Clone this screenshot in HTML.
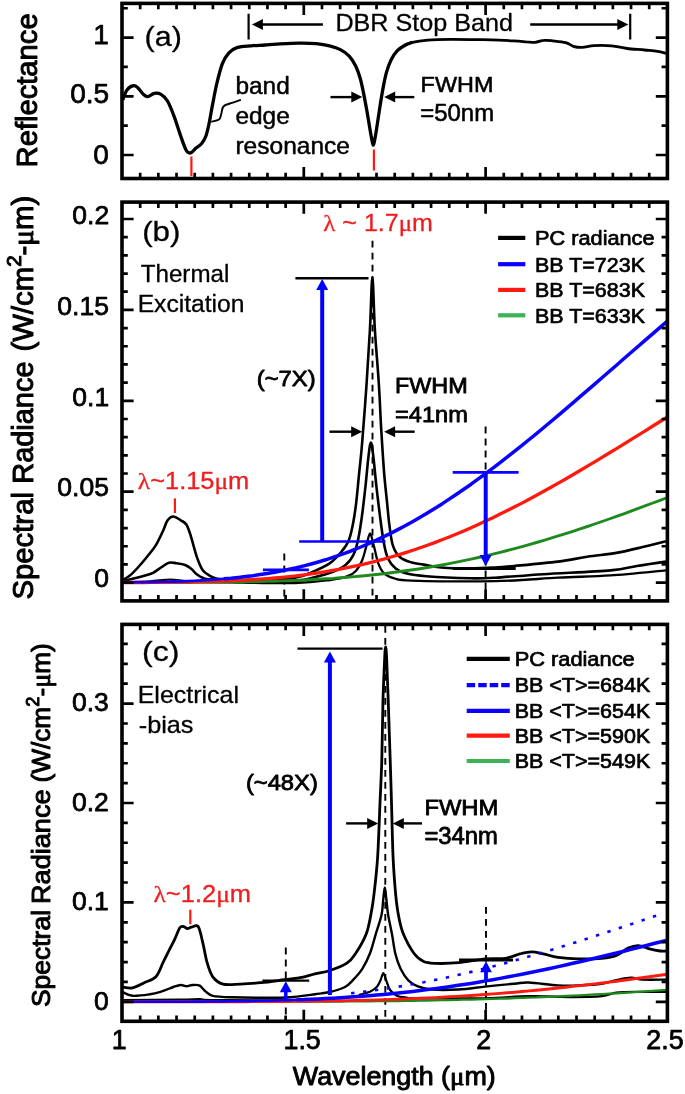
<!DOCTYPE html>
<html lang="en"><head><meta charset="utf-8"><title>Figure</title>
<style>html,body{margin:0;padding:0;background:#fff}svg{display:block;will-change:transform}text{font-family:"Liberation Sans",sans-serif;stroke-linejoin:round}</style></head><body>
<svg width="685" height="1094" viewBox="0 0 685 1094">
<rect width="685" height="1094" fill="#fff"/>
<g fill="none" stroke-linecap="butt" stroke-linejoin="round">
<path d="M122.7,99.9 C123.4,98.2 125.2,92.4 127.0,90.0 C128.8,87.6 131.8,86.0 133.6,85.7 C135.4,85.4 136.3,86.5 138.0,87.9 C139.7,89.4 141.9,93.0 143.5,94.4 C145.1,95.9 146.0,96.8 147.8,96.6 C149.6,96.4 152.2,93.8 154.4,93.4 C156.6,93.0 158.8,93.1 161.0,94.4 C163.2,95.7 165.3,97.3 167.5,101.0 C169.7,104.7 171.9,110.5 174.1,116.3 C176.3,122.1 178.7,130.3 180.7,136.0 C182.7,141.7 184.6,147.5 186.2,150.3 C187.8,153.1 188.9,153.3 190.5,152.9 C192.1,152.5 194.2,149.6 196.0,148.1 C197.8,146.6 199.8,145.7 201.5,143.7 C203.2,141.7 204.6,139.5 205.9,136.0 C207.2,132.5 208.1,128.0 209.2,122.9 C210.3,117.8 211.1,112.0 212.4,105.4 C213.7,98.8 215.2,90.4 216.8,83.5 C218.5,76.6 220.3,68.9 222.3,63.8 C224.3,58.7 226.4,55.5 228.9,52.8 C231.4,50.1 233.9,48.6 237.6,47.4 C241.2,46.2 246.2,46.2 250.8,45.8 C255.4,45.4 260.6,45.3 265.0,45.0 C269.4,44.7 271.3,44.4 276.9,44.1 C282.5,43.8 292.2,43.2 298.8,43.1 C305.4,43.0 311.2,43.2 316.3,43.7 C321.4,44.2 325.5,44.9 329.5,45.9 C333.5,46.9 337.1,47.9 340.4,49.6 C343.7,51.3 346.6,53.4 349.2,56.1 C351.8,58.8 353.9,62.4 355.7,66.0 C357.5,69.7 358.8,73.6 360.1,78.0 C361.4,82.4 362.3,87.0 363.4,92.3 C364.5,97.6 365.6,103.6 366.7,109.8 C367.8,116.0 369.1,124.1 370.0,129.5 C370.9,134.9 371.8,139.4 372.3,142.0 C372.9,144.6 373.0,145.2 373.3,145.2 C373.6,145.2 373.8,144.6 374.3,142.0 C374.8,139.4 375.6,135.2 376.5,129.5 C377.4,123.8 378.7,114.5 379.8,107.6 C380.9,100.7 382.0,93.7 383.1,87.9 C384.2,82.1 385.1,77.2 386.4,72.6 C387.7,68.0 389.0,64.2 390.8,60.5 C392.6,56.9 394.9,53.2 397.3,50.7 C399.7,48.2 402.5,46.6 405.0,45.2 C407.5,43.8 411.2,42.8 412.5,42.3" stroke="#000" stroke-width="3.3"/>
<path d="M405.0,45.2 C406.2,44.7 408.7,43.1 412.5,42.3 C416.3,41.4 421.6,40.6 427.8,40.1 C434.0,39.6 440.6,39.4 449.7,39.3 C458.8,39.2 472.0,39.5 482.6,39.7 C493.2,40.0 505.9,40.4 513.2,40.8 C520.5,41.2 522.8,41.6 526.4,41.9 C530.0,42.1 532.2,42.5 535.1,42.3 C538.0,42.0 540.9,40.6 543.8,40.4 C546.7,40.1 548.9,40.4 552.5,40.8 C556.1,41.2 562.2,41.7 565.7,42.6 C569.2,43.5 570.6,45.5 573.3,46.3 C576.0,47.1 578.6,47.5 582.1,47.4 C585.6,47.3 589.2,45.9 594.1,45.6 C599.0,45.3 606.1,45.3 611.6,45.8 C617.1,46.3 621.5,47.8 627.0,48.5 C632.5,49.2 639.4,49.5 644.5,50.0 C649.6,50.5 654.0,50.8 657.6,51.3 C661.2,51.8 664.9,53.0 666.4,53.3" stroke="#000" stroke-width="2.8"/>
<path d="M240.9,99.9 C239.2,100.5 233.9,102.1 231.0,103.2 C228.1,104.3 225.0,104.7 223.4,106.5 C221.8,108.3 221.9,112.0 221.2,114.2 C220.5,116.4 220.7,118.3 219.0,119.6 C217.3,120.9 212.6,121.4 211.3,121.8" stroke="#000" stroke-width="1.9"/>
<path d="M191.4,156.5V176 M373.9,149.5V170.6" stroke="#ff1a10" stroke-width="2.2"/>
<path d="M248.6,13.8V39.5 M630.2,13.8V39.5" stroke="#000" stroke-width="2.2"/>
</g>
<path d="M322.9,24.5H258.5" stroke="#000" stroke-width="2.4"/>
<path d="M251.9,24.5L262.9,19.0L262.9,30.0Z" fill="#000"/>
<path d="M530.2,24.5H621.7" stroke="#000" stroke-width="2.4"/>
<path d="M628.3,24.5L617.3,19.0L617.3,30.0Z" fill="#000"/>
<path d="M330.5,97.1H355.7" stroke="#000" stroke-width="2.4"/>
<path d="M362.3,97.1L351.3,91.6L351.3,102.6Z" fill="#000"/>
<path d="M414.3,97.1H390.8" stroke="#000" stroke-width="2.4"/>
<path d="M384.2,97.1L395.2,91.6L395.2,102.6Z" fill="#000"/>
<path d="M140.18,3.40v5.80 M140.18,178.50v-5.80 M158.36,3.40v5.80 M158.36,178.50v-5.80 M176.54,3.40v5.80 M176.54,178.50v-5.80 M194.72,3.40v5.80 M194.72,178.50v-5.80 M212.90,3.40v5.80 M212.90,178.50v-5.80 M231.08,3.40v5.80 M231.08,178.50v-5.80 M249.26,3.40v5.80 M249.26,178.50v-5.80 M267.44,3.40v5.80 M267.44,178.50v-5.80 M285.62,3.40v5.80 M285.62,178.50v-5.80 M303.80,3.40v11.60 M303.80,178.50v-11.60 M321.98,3.40v5.80 M321.98,178.50v-5.80 M340.16,3.40v5.80 M340.16,178.50v-5.80 M358.34,3.40v5.80 M358.34,178.50v-5.80 M376.52,3.40v5.80 M376.52,178.50v-5.80 M394.70,3.40v5.80 M394.70,178.50v-5.80 M412.88,3.40v5.80 M412.88,178.50v-5.80 M431.06,3.40v5.80 M431.06,178.50v-5.80 M449.24,3.40v5.80 M449.24,178.50v-5.80 M467.42,3.40v5.80 M467.42,178.50v-5.80 M485.60,3.40v11.60 M485.60,178.50v-11.60 M503.78,3.40v5.80 M503.78,178.50v-5.80 M521.96,3.40v5.80 M521.96,178.50v-5.80 M540.14,3.40v5.80 M540.14,178.50v-5.80 M558.32,3.40v5.80 M558.32,178.50v-5.80 M576.50,3.40v5.80 M576.50,178.50v-5.80 M594.68,3.40v5.80 M594.68,178.50v-5.80 M612.86,3.40v5.80 M612.86,178.50v-5.80 M631.04,3.40v5.80 M631.04,178.50v-5.80 M649.22,3.40v5.80 M649.22,178.50v-5.80 M122.00,155.00h11.60 M667.40,155.00h-11.60 M122.00,96.30h11.60 M667.40,96.30h-11.60 M122.00,37.60h11.60 M667.40,37.60h-11.60 M122.00,125.65h5.80 M667.40,125.65h-5.80 M122.00,66.95h5.80 M667.40,66.95h-5.80 M122.00,8.25h5.80 M667.40,8.25h-5.80" stroke="#000" stroke-width="2.7" fill="none"/>
<rect x="122.00" y="3.40" width="545.40" height="175.10" fill="none" stroke="#000" stroke-width="3.6"/>
<g fill="none" stroke-linecap="butt" stroke-linejoin="round">
<path d="M284.3,553.6V599 M372.5,240.7V599 M485.6,426.6V599" stroke="#000" stroke-width="1.9" stroke-dasharray="6.8,5.2"/>
<path d="M122.3,580.2 C123.5,579.5 126.9,578.0 129.6,575.8 C132.3,573.6 135.5,570.2 138.4,567.0 C141.3,563.8 144.2,560.4 147.1,556.8 C150.0,553.1 153.2,549.5 155.9,545.1 C158.6,540.7 161.2,534.6 163.2,530.5 C165.1,526.4 165.9,522.6 167.6,520.3 C169.3,518.0 171.2,516.5 173.4,516.5 C175.6,516.5 178.5,518.9 180.7,520.3 C182.9,521.7 184.8,522.0 186.5,524.7 C188.2,527.4 189.2,531.0 190.9,536.4 C192.6,541.8 194.9,551.2 196.8,556.8 C198.8,562.4 200.4,566.8 202.6,570.0 C204.8,573.2 207.5,574.3 209.9,575.8 C212.3,577.2 213.5,578.0 217.2,578.7 C220.8,579.4 224.7,580.1 231.8,580.2 C238.9,580.3 249.5,579.9 260.0,579.5 C270.5,579.1 286.2,579.0 295.0,577.7 C303.8,576.4 306.7,574.3 312.5,571.9 C318.3,569.5 325.1,566.5 330.0,563.1 C334.9,559.7 338.5,555.3 341.7,551.4 C344.9,547.5 347.1,544.6 349.0,539.7 C350.9,534.8 352.1,528.5 353.3,522.2 C354.5,515.9 355.3,510.1 356.3,501.8 C357.3,493.5 358.2,482.3 359.2,472.6 C360.2,462.9 360.9,458.0 362.1,443.4 C363.3,428.8 365.2,403.9 366.5,385.0 C367.8,366.1 368.9,348.0 369.9,330.0 C370.9,312.0 371.6,277.0 372.4,277.0 C373.2,277.0 373.8,312.0 374.9,330.0 C376.0,348.0 377.9,368.5 378.9,385.0 C380.0,401.5 380.3,414.2 381.2,428.8 C382.1,443.4 383.1,460.4 384.1,472.6 C385.1,484.8 386.1,493.1 387.0,501.8 C387.9,510.6 388.4,517.8 389.4,525.1 C390.4,532.4 391.1,540.2 392.9,545.6 C394.7,551.0 397.0,554.5 400.1,557.3 C403.2,560.1 407.9,561.3 411.8,562.5 C415.7,563.7 418.6,563.8 423.5,564.6 C428.4,565.4 433.2,566.9 441.0,567.5 C448.8,568.1 461.2,568.4 470.2,568.4 C479.2,568.4 487.7,567.9 495.0,567.5 C502.3,567.1 503.7,567.0 514.2,566.0 C524.7,565.0 545.8,563.1 558.0,561.6 C570.2,560.1 577.5,558.2 587.2,556.7 C596.9,555.2 607.1,554.5 616.4,552.9 C625.6,551.3 634.4,549.0 642.7,547.0 C651.0,545.0 662.1,542.2 666.0,541.2" stroke="#000" stroke-width="2.6"/>
<path d="M122.3,581.6 C124.0,581.1 128.8,579.7 132.5,578.7 C136.2,577.7 140.8,576.8 144.2,575.8 C147.6,574.8 150.1,574.4 153.0,572.9 C155.9,571.4 159.0,568.7 161.7,567.0 C164.4,565.3 166.6,563.3 169.0,562.7 C171.4,562.1 173.6,562.8 176.3,563.2 C179.0,563.6 182.7,564.1 185.1,565.0 C187.5,565.9 188.9,567.0 190.9,568.5 C192.9,570.0 194.9,572.8 196.8,574.3 C198.8,575.8 200.2,576.9 202.6,577.8 C205.0,578.7 203.5,579.1 211.4,579.6 C219.3,580.1 236.1,580.8 250.0,581.0 C263.9,581.2 284.6,581.1 295.0,580.6 C305.4,580.1 306.2,579.2 312.5,577.7 C318.8,576.2 327.4,574.1 333.0,571.9 C338.6,569.7 342.7,567.5 346.1,564.6 C349.6,561.7 351.7,558.4 353.7,554.3 C355.7,550.1 356.7,546.0 358.1,539.7 C359.5,533.4 360.7,525.1 361.9,516.4 C363.1,507.6 364.3,496.9 365.4,487.2 C366.5,477.5 367.4,465.4 368.3,458.0 C369.2,450.6 370.0,442.5 370.9,442.5 C371.8,442.5 372.6,450.6 373.5,458.0 C374.4,465.4 375.4,477.5 376.5,487.2 C377.6,496.9 378.8,507.1 380.0,516.4 C381.2,525.6 382.5,535.7 383.8,542.7 C385.1,549.8 386.1,554.4 388.1,558.7 C390.1,563.0 392.7,566.0 395.7,568.4 C398.7,570.8 400.9,572.0 406.0,573.3 C411.1,574.6 415.7,575.4 426.4,576.2 C437.1,577.0 458.8,578.0 470.2,578.3 C481.6,578.5 482.8,578.4 495.0,577.7 C507.2,577.0 524.1,575.4 543.4,574.2 C562.6,573.0 594.9,571.8 610.5,570.4 C626.1,569.0 627.5,567.5 636.8,566.0 C646.0,564.5 661.1,562.3 666.0,561.6" stroke="#000" stroke-width="2.6"/>
<path d="M122.3,582.3 C126.9,582.1 142.0,581.8 150.0,581.3 C158.0,580.8 163.8,579.6 170.5,579.6 C177.2,579.6 180.1,580.8 190.0,581.3 C199.9,581.8 212.5,582.0 230.0,582.3 C247.5,582.6 278.3,583.4 295.0,583.0 C311.7,582.6 321.2,581.1 330.0,580.0 C338.8,578.9 343.2,577.8 347.6,576.2 C352.0,574.6 353.9,573.1 356.3,570.4 C358.7,567.7 360.5,564.3 362.2,560.2 C363.9,556.1 365.2,550.1 366.5,545.6 C367.8,541.1 368.8,533.3 370.0,533.3 C371.2,533.3 372.4,540.6 373.8,545.6 C375.2,550.6 376.5,558.5 378.2,563.1 C379.9,567.7 381.4,570.8 384.1,573.3 C386.8,575.8 389.7,577.1 394.3,578.3 C398.9,579.5 395.0,580.1 411.8,580.6 C428.6,581.1 470.6,581.7 495.0,581.2 C519.4,580.7 538.8,578.7 558.0,577.7 C577.2,576.7 592.5,576.6 610.5,575.4 C628.5,574.2 656.8,571.2 666.0,570.4" stroke="#000" stroke-width="2.3"/>
<path d="M122.0,582.6 L129.3,582.6 L136.5,582.6 L143.8,582.6 L151.1,582.6 L158.4,582.6 L165.6,582.5 L172.9,582.5 L180.2,582.5 L187.4,582.5 L194.7,582.4 L202.0,582.4 L209.3,582.3 L216.5,582.3 L223.8,582.2 L231.1,582.1 L238.4,582.0 L245.6,581.9 L252.9,581.7 L260.2,581.6 L267.4,581.4 L274.7,581.2 L282.0,580.9 L289.3,580.7 L296.5,580.4 L303.8,580.0 L311.1,579.7 L318.3,579.3 L325.6,578.8 L332.9,578.4 L340.2,577.8 L347.4,577.3 L354.7,576.6 L362.0,576.0 L369.2,575.3 L376.5,574.5 L383.8,573.7 L391.1,572.8 L398.3,571.8 L405.6,570.8 L412.9,569.8 L420.2,568.7 L427.4,567.5 L434.7,566.3 L442.0,565.0 L449.2,563.6 L456.5,562.2 L463.8,560.7 L471.1,559.1 L478.3,557.5 L485.6,555.8 L492.9,554.1 L500.1,552.3 L507.4,550.5 L514.7,548.6 L522.0,546.6 L529.2,544.6 L536.5,542.5 L543.8,540.3 L551.0,538.2 L558.3,535.9 L565.6,533.6 L572.9,531.3 L580.1,528.9 L587.4,526.5 L594.7,524.0 L602.0,521.5 L609.2,519.0 L616.5,516.4 L623.8,513.8 L631.0,511.1 L638.3,508.4 L645.6,505.7 L652.9,503.0 L660.1,500.3 L667.4,497.5" stroke="#1e8a1e" stroke-width="2.9"/>
<path d="M122.0,582.5 L129.3,582.5 L136.5,582.5 L143.8,582.5 L151.1,582.4 L158.4,582.4 L165.6,582.3 L172.9,582.2 L180.2,582.1 L187.4,582.0 L194.7,581.9 L202.0,581.7 L209.3,581.5 L216.5,581.3 L223.8,581.1 L231.1,580.8 L238.4,580.4 L245.6,580.1 L252.9,579.6 L260.2,579.1 L267.4,578.6 L274.7,578.0 L282.0,577.3 L289.3,576.6 L296.5,575.8 L303.8,574.9 L311.1,573.9 L318.3,572.8 L325.6,571.7 L332.9,570.4 L340.2,569.1 L347.4,567.7 L354.7,566.2 L362.0,564.6 L369.2,562.8 L376.5,561.0 L383.8,559.1 L391.1,557.0 L398.3,554.9 L405.6,552.6 L412.9,550.3 L420.2,547.8 L427.4,545.3 L434.7,542.6 L442.0,539.8 L449.2,537.0 L456.5,534.0 L463.8,530.9 L471.1,527.7 L478.3,524.5 L485.6,521.1 L492.9,517.7 L500.1,514.1 L507.4,510.5 L514.7,506.8 L522.0,503.1 L529.2,499.2 L536.5,495.3 L543.8,491.3 L551.0,487.2 L558.3,483.1 L565.6,479.0 L572.9,474.8 L580.1,470.5 L587.4,466.2 L594.7,461.8 L602.0,457.4 L609.2,453.0 L616.5,448.6 L623.8,444.1 L631.0,439.6 L638.3,435.1 L645.6,430.6 L652.9,426.0 L660.1,421.5 L667.4,417.0" stroke="#ff1a10" stroke-width="3.3"/>
<path d="M122.0,582.4 L129.3,582.4 L136.5,582.3 L143.8,582.2 L151.1,582.1 L158.4,582.0 L165.6,581.8 L172.9,581.6 L180.2,581.4 L187.4,581.1 L194.7,580.8 L202.0,580.4 L209.3,579.9 L216.5,579.4 L223.8,578.8 L231.1,578.2" stroke="#0a00ff" stroke-width="2.6"/>
<path d="M223.8,578.8 L231.1,578.2 L238.4,577.4 L245.6,576.6 L252.9,575.7 L260.2,574.6 L267.4,573.5 L274.7,572.2 L282.0,570.8 L289.3,569.3 L296.5,567.7 L303.8,565.9 L311.1,564.0 L318.3,562.0 L325.6,559.8 L332.9,557.4 L340.2,554.9 L347.4,552.3 L354.7,549.5 L362.0,546.5 L369.2,543.4 L376.5,540.2 L383.8,536.7 L391.1,533.1 L398.3,529.4 L405.6,525.5 L412.9,521.5 L420.2,517.3 L427.4,513.0 L434.7,508.5 L442.0,503.9 L449.2,499.1 L456.5,494.3 L463.8,489.3 L471.1,484.2 L478.3,478.9 L485.6,473.6 L492.9,468.1 L500.1,462.6 L507.4,456.9 L514.7,451.2 L522.0,445.4 L529.2,439.5 L536.5,433.6 L543.8,427.5 L551.0,421.5 L558.3,415.3 L565.6,409.2 L572.9,402.9 L580.1,396.7 L587.4,390.4 L594.7,384.1 L602.0,377.8 L609.2,371.5 L616.5,365.2 L623.8,358.8 L631.0,352.5 L638.3,346.2 L645.6,339.9 L652.9,333.6 L660.1,327.4 L667.4,321.2" stroke="#0a00ff" stroke-width="3.5"/>
<path d="M295.4,278.3H368.5" stroke="#000" stroke-width="2.4"/>
<path d="M452.7,568.4H515.7" stroke="#000" stroke-width="3"/>
<path d="M299.2,541.5H385.5 M262.9,569.8H308.9 M452.7,472.4H518.6" stroke="#0a00ff" stroke-width="2.7"/>
<path d="M174.9,498.4V513" stroke="#ff1a10" stroke-width="2.2"/>
</g>
<path d="M322.2,541.8V286.8" stroke="#0000ff" stroke-width="4.0"/>
<path d="M322.2,279.1L316.2,290.1L328.2,290.1Z" fill="#0000ff"/>
<path d="M485.7,472.6V558.3" stroke="#0000ff" stroke-width="4.0"/>
<path d="M485.7,566.0L479.7,555.0L491.7,555.0Z" fill="#0000ff"/>
<path d="M329.5,431.7H355.6" stroke="#000" stroke-width="2.4"/>
<path d="M362.2,431.7L351.2,426.2L351.2,437.2Z" fill="#000"/>
<path d="M414.7,431.7H390.7" stroke="#000" stroke-width="2.4"/>
<path d="M384.1,431.7L395.1,426.2L395.1,437.2Z" fill="#000"/>
<path d="M498.1,237.9H525.3" stroke="#000" stroke-width="4.2"/>
<path d="M498.1,264.2H525.3" stroke="#0a00ff" stroke-width="4.2"/>
<path d="M498.1,289.9H525.3" stroke="#ff1a10" stroke-width="4.2"/>
<path d="M498.1,315.3H525.3" stroke="#3cb454" stroke-width="4.2"/>
<path d="M140.18,202.10v5.80 M140.18,600.90v-5.80 M158.36,202.10v5.80 M158.36,600.90v-5.80 M176.54,202.10v5.80 M176.54,600.90v-5.80 M194.72,202.10v5.80 M194.72,600.90v-5.80 M212.90,202.10v5.80 M212.90,600.90v-5.80 M231.08,202.10v5.80 M231.08,600.90v-5.80 M249.26,202.10v5.80 M249.26,600.90v-5.80 M267.44,202.10v5.80 M267.44,600.90v-5.80 M285.62,202.10v5.80 M285.62,600.90v-5.80 M303.80,202.10v11.60 M303.80,600.90v-11.60 M321.98,202.10v5.80 M321.98,600.90v-5.80 M340.16,202.10v5.80 M340.16,600.90v-5.80 M358.34,202.10v5.80 M358.34,600.90v-5.80 M376.52,202.10v5.80 M376.52,600.90v-5.80 M394.70,202.10v5.80 M394.70,600.90v-5.80 M412.88,202.10v5.80 M412.88,600.90v-5.80 M431.06,202.10v5.80 M431.06,600.90v-5.80 M449.24,202.10v5.80 M449.24,600.90v-5.80 M467.42,202.10v5.80 M467.42,600.90v-5.80 M485.60,202.10v11.60 M485.60,600.90v-11.60 M503.78,202.10v5.80 M503.78,600.90v-5.80 M521.96,202.10v5.80 M521.96,600.90v-5.80 M540.14,202.10v5.80 M540.14,600.90v-5.80 M558.32,202.10v5.80 M558.32,600.90v-5.80 M576.50,202.10v5.80 M576.50,600.90v-5.80 M594.68,202.10v5.80 M594.68,600.90v-5.80 M612.86,202.10v5.80 M612.86,600.90v-5.80 M631.04,202.10v5.80 M631.04,600.90v-5.80 M649.22,202.10v5.80 M649.22,600.90v-5.80 M122.00,582.60h11.60 M667.40,582.60h-11.60 M122.00,491.70h11.60 M667.40,491.70h-11.60 M122.00,400.80h11.60 M667.40,400.80h-11.60 M122.00,309.90h11.60 M667.40,309.90h-11.60 M122.00,219.00h11.60 M667.40,219.00h-11.60 M122.00,564.42h5.80 M667.40,564.42h-5.80 M122.00,546.24h5.80 M667.40,546.24h-5.80 M122.00,528.06h5.80 M667.40,528.06h-5.80 M122.00,509.88h5.80 M667.40,509.88h-5.80 M122.00,473.52h5.80 M667.40,473.52h-5.80 M122.00,455.34h5.80 M667.40,455.34h-5.80 M122.00,437.16h5.80 M667.40,437.16h-5.80 M122.00,418.98h5.80 M667.40,418.98h-5.80 M122.00,382.62h5.80 M667.40,382.62h-5.80 M122.00,364.44h5.80 M667.40,364.44h-5.80 M122.00,346.26h5.80 M667.40,346.26h-5.80 M122.00,328.08h5.80 M667.40,328.08h-5.80 M122.00,291.72h5.80 M667.40,291.72h-5.80 M122.00,273.54h5.80 M667.40,273.54h-5.80 M122.00,255.36h5.80 M667.40,255.36h-5.80 M122.00,237.18h5.80 M667.40,237.18h-5.80" stroke="#000" stroke-width="2.7" fill="none"/>
<rect x="122.00" y="202.10" width="545.40" height="398.80" fill="none" stroke="#000" stroke-width="3.6"/>
<g fill="none" stroke-linecap="butt" stroke-linejoin="round">
<path d="M285.8,947.6V1019 M385.3,626V1019 M486.0,907V1019" stroke="#000" stroke-width="1.9" stroke-dasharray="6.8,5.2"/>
<path d="M122.3,987.0 C124.0,987.1 128.8,988.6 132.5,987.9 C136.2,987.2 140.3,984.6 144.2,982.7 C148.1,980.9 152.7,980.2 155.9,976.8 C159.1,973.4 161.0,966.6 163.2,962.2 C165.4,957.8 167.1,954.4 169.0,950.5 C170.9,946.6 173.1,942.7 174.9,938.9 C176.7,935.1 178.4,929.8 179.8,927.8 C181.2,925.8 182.3,926.5 183.6,926.6 C184.9,926.7 186.1,928.5 187.4,928.6 C188.7,928.7 189.7,927.5 191.5,927.2 C193.3,926.9 196.3,924.2 198.2,926.6 C200.0,929.0 201.1,935.9 202.6,941.8 C204.1,947.7 205.3,956.4 207.0,962.2 C208.7,968.0 210.1,973.1 212.8,976.8 C215.5,980.4 218.4,982.9 223.0,984.1 C227.6,985.3 234.2,984.3 240.5,984.1 C246.8,983.9 253.7,983.4 261.0,982.7 C268.3,982.0 277.5,980.6 284.3,979.7 C291.1,978.8 296.8,978.4 301.9,977.4 C307.0,976.4 310.3,975.0 315.0,973.9 C319.7,972.8 324.7,972.3 330.0,970.5 C335.3,968.7 342.6,965.9 346.9,963.1 C351.2,960.3 352.4,958.3 355.6,953.5 C358.8,948.7 363.6,940.7 366.1,934.3 C368.6,927.9 369.5,921.4 370.8,915.0 C372.1,908.6 372.7,905.5 373.8,895.9 C374.9,886.3 376.6,873.1 377.6,857.6 C378.6,842.1 379.3,819.3 380.0,803.0 C380.7,786.7 381.3,777.2 381.8,760.0 C382.3,742.8 382.5,716.7 383.0,700.0 C383.5,683.3 384.2,668.8 384.6,660.0 C385.0,651.2 385.2,647.0 385.6,647.0 C386.0,647.0 386.3,651.2 386.7,660.0 C387.1,668.8 387.6,683.3 388.2,700.0 C388.8,716.7 389.6,742.8 390.2,760.0 C390.8,777.2 391.0,786.7 391.5,803.0 C392.0,819.3 392.4,842.1 393.1,857.6 C393.8,873.1 394.9,886.0 395.8,895.9 C396.8,905.8 397.5,910.6 398.8,917.0 C400.1,923.4 400.9,928.2 403.5,934.3 C406.1,940.4 410.7,949.0 414.1,953.5 C417.5,958.0 420.2,960.0 423.7,961.6 C427.2,963.2 429.3,963.2 435.1,963.4 C440.9,963.6 450.2,963.5 458.5,962.7 C466.8,962.0 477.2,959.6 485.0,958.9 C492.8,958.2 499.6,959.1 505.4,958.3 C511.2,957.5 515.6,955.0 520.0,953.9 C524.4,952.8 527.8,951.9 531.7,951.9 C535.6,951.9 539.0,953.0 543.4,953.9 C547.8,954.8 552.2,956.6 558.0,957.4 C563.8,958.2 571.1,958.8 578.4,958.9 C585.7,959.0 595.5,958.9 601.8,958.3 C608.1,957.7 612.0,957.1 616.4,955.4 C620.8,953.7 624.5,949.7 628.1,948.1 C631.8,946.5 634.9,945.6 638.3,945.7 C641.7,945.8 644.9,947.7 648.5,948.6 C652.1,949.5 657.3,950.6 660.2,951.0 C663.1,951.4 665.0,951.0 666.0,951.0" stroke="#000" stroke-width="2.8"/>
<path d="M122.3,992.0 C124.0,992.6 127.9,995.4 132.5,995.8 C137.1,996.2 145.1,995.0 150.0,994.3 C154.9,993.6 157.8,992.6 161.7,991.4 C165.6,990.2 170.2,988.1 173.4,987.0 C176.6,985.9 178.5,985.1 180.7,985.0 C182.9,984.9 184.6,986.2 186.5,986.2 C188.4,986.2 190.2,985.1 192.4,985.0 C194.6,984.9 197.5,984.5 199.7,985.6 C201.9,986.7 203.3,989.7 205.5,991.4 C207.7,993.1 208.4,994.8 212.8,995.8 C217.2,996.8 223.8,997.0 231.8,997.3 C239.8,997.6 251.3,997.8 261.0,997.8 C270.7,997.8 281.2,997.9 290.2,997.3 C299.2,996.7 308.4,995.2 315.0,994.3 C321.6,993.4 325.0,993.2 330.0,992.0 C335.0,990.8 341.2,989.0 345.0,987.0 C348.8,985.0 349.8,983.3 352.7,980.3 C355.6,977.3 359.4,973.3 362.3,968.8 C365.2,964.3 367.7,959.2 369.9,953.5 C372.1,947.8 373.8,940.7 375.7,934.3 C377.6,927.9 380.2,921.1 381.5,915.1 C382.8,909.1 382.8,902.6 383.4,898.0 C383.9,893.4 384.3,887.5 384.8,887.5 C385.3,887.5 385.6,893.4 386.2,898.0 C386.8,902.6 387.2,909.1 388.2,915.1 C389.2,921.1 390.8,927.9 392.0,934.3 C393.2,940.7 393.9,947.8 395.3,953.5 C396.7,959.2 398.4,964.3 400.6,968.8 C402.8,973.3 405.4,977.4 408.3,980.3 C411.2,983.2 413.9,984.8 417.9,986.4 C421.9,988.0 425.4,989.1 432.2,989.6 C439.0,990.1 449.7,990.0 458.5,989.5 C467.3,989.0 475.7,987.6 485.0,986.6 C494.3,985.6 506.9,984.4 514.2,983.7 C521.5,983.0 521.5,982.2 528.8,982.5 C536.1,982.8 549.7,984.9 558.0,985.4 C566.3,985.9 571.1,985.7 578.4,985.4 C585.7,985.1 595.5,984.6 601.8,983.7 C608.1,982.8 611.5,981.2 616.4,980.2 C621.3,979.2 626.6,977.9 631.0,977.8 C635.4,977.7 636.9,979.3 642.7,979.6 C648.5,979.9 662.1,979.6 666.0,979.6" stroke="#000" stroke-width="2.4"/>
<path d="M122.3,1000.0 C131.9,999.9 167.1,999.7 180.0,999.6 C192.9,999.5 194.2,999.1 200.0,999.2 C205.8,999.3 198.3,999.9 215.0,1000.0 C231.7,1000.1 276.9,1000.6 300.0,1000.0 C323.1,999.4 343.3,997.4 353.4,996.5 C363.4,995.6 357.6,995.3 360.3,994.5 C363.1,993.7 367.2,993.0 369.9,991.8 C372.6,990.5 374.9,988.9 376.7,987.0 C378.5,985.1 379.4,982.6 380.5,980.3 C381.6,978.0 382.4,973.0 383.4,973.0 C384.3,973.0 385.1,977.5 386.2,980.3 C387.3,983.1 388.3,987.4 390.1,990.0 C391.9,992.6 394.1,994.4 396.8,995.7 C399.5,997.0 402.9,997.2 406.4,997.6 C409.9,998.0 404.5,998.2 417.6,998.3 C430.7,998.4 466.5,998.6 485.0,998.3 C503.5,997.9 514.2,996.4 528.8,996.2 C543.4,996.0 560.4,997.1 572.6,997.1 C584.8,997.1 594.5,996.9 601.8,996.2 C609.1,995.5 610.6,993.4 616.4,992.7 C622.2,992.0 628.5,992.0 636.8,991.9 C645.1,991.8 661.1,991.9 666.0,991.9" stroke="#000" stroke-width="2.2"/>
<path d="M122.0,1001.8 L129.3,1001.8 L136.5,1001.8 L143.8,1001.8 L151.1,1001.8 L158.4,1001.8 L165.6,1001.8 L172.9,1001.8 L180.2,1001.8 L187.4,1001.8 L194.7,1001.8 L202.0,1001.8 L209.3,1001.8 L216.5,1001.8 L223.8,1001.8 L231.1,1001.8 L238.4,1001.8 L245.6,1001.8 L252.9,1001.8 L260.2,1001.8 L267.4,1001.7 L274.7,1001.7 L282.0,1001.7 L289.3,1001.7 L296.5,1001.7 L303.8,1001.7 L311.1,1001.6 L318.3,1001.6 L325.6,1001.6 L332.9,1001.5 L340.2,1001.5 L347.4,1001.4 L354.7,1001.4 L362.0,1001.3 L369.2,1001.3 L376.5,1001.2 L383.8,1001.1 L391.1,1001.1 L398.3,1001.0 L405.6,1000.9 L412.9,1000.8 L420.2,1000.6 L427.4,1000.5 L434.7,1000.4 L442.0,1000.2 L449.2,1000.1 L456.5,999.9 L463.8,999.7 L471.1,999.6 L478.3,999.4 L485.6,999.2 L492.9,998.9 L500.1,998.7 L507.4,998.5 L514.7,998.2 L522.0,997.9 L529.2,997.6 L536.5,997.4 L543.8,997.0 L551.0,996.7 L558.3,996.4 L565.6,996.0 L572.9,995.7 L580.1,995.3 L587.4,994.9 L594.7,994.5 L602.0,994.1 L609.2,993.7 L616.5,993.3 L623.8,992.8 L631.0,992.4 L638.3,991.9 L645.6,991.4 L652.9,990.9 L660.1,990.4 L667.4,989.9" stroke="#1e8a1e" stroke-width="2.3"/>
<path d="M122.0,1001.8 L129.3,1001.8 L136.5,1001.8 L143.8,1001.8 L151.1,1001.8 L158.4,1001.8 L165.6,1001.8 L172.9,1001.8 L180.2,1001.8 L187.4,1001.8 L194.7,1001.8 L202.0,1001.8 L209.3,1001.8 L216.5,1001.7 L223.8,1001.7 L231.1,1001.7 L238.4,1001.7 L245.6,1001.7 L252.9,1001.6 L260.2,1001.6 L267.4,1001.6 L274.7,1001.5 L282.0,1001.5 L289.3,1001.4 L296.5,1001.3 L303.8,1001.3 L311.1,1001.2 L318.3,1001.1 L325.6,1001.0 L332.9,1000.9 L340.2,1000.7 L347.4,1000.6 L354.7,1000.4 L362.0,1000.3 L369.2,1000.1 L376.5,999.9 L383.8,999.7 L391.1,999.4 L398.3,999.2 L405.6,998.9 L412.9,998.6 L420.2,998.3 L427.4,997.9 L434.7,997.6 L442.0,997.2 L449.2,996.8 L456.5,996.4 L463.8,995.9 L471.1,995.5 L478.3,995.0 L485.6,994.5 L492.9,993.9 L500.1,993.4 L507.4,992.8 L514.7,992.2 L522.0,991.5 L529.2,990.9 L536.5,990.2 L543.8,989.5 L551.0,988.7 L558.3,988.0 L565.6,987.2 L572.9,986.4 L580.1,985.6 L587.4,984.8 L594.7,983.9 L602.0,983.0 L609.2,982.1 L616.5,981.2 L623.8,980.3 L631.0,979.3 L638.3,978.3 L645.6,977.3 L652.9,976.3 L660.1,975.3 L667.4,974.2" stroke="#ff1a10" stroke-width="2.9"/>
<path d="M351.1,993.3 L358.3,992.4 L365.6,991.5 L372.9,990.5 L380.2,989.5 L387.4,988.4 L394.7,987.3 L402.0,986.1 L409.2,984.8 L416.5,983.5 L423.8,982.2 L431.1,980.7 L438.3,979.3 L445.6,977.7 L452.9,976.1 L460.1,974.5 L467.4,972.8 L474.7,971.1 L482.0,969.3 L489.2,967.4 L496.5,965.5 L503.8,963.6 L511.1,961.6 L518.3,959.6 L525.6,957.5 L532.9,955.4 L540.1,953.3 L547.4,951.1 L554.7,948.9 L562.0,946.6 L569.2,944.3 L576.5,942.1 L583.8,939.7 L591.0,937.4 L598.3,935.0 L605.6,932.6 L612.9,930.2 L620.1,927.8 L627.4,925.4 L634.7,923.0 L641.9,920.5 L649.2,918.1 L656.5,915.6 L663.8,913.2" stroke="#0a00ff" stroke-width="2.6" stroke-dasharray="3.4,8.6"/>
<path d="M122.0,1001.8 L129.3,1001.8 L136.5,1001.8 L143.8,1001.8 L151.1,1001.8 L158.4,1001.7 L165.6,1001.7 L172.9,1001.7 L180.2,1001.7 L187.4,1001.7 L194.7,1001.6 L202.0,1001.6 L209.3,1001.5 L216.5,1001.5 L223.8,1001.4 L231.1,1001.3 L238.4,1001.2 L245.6,1001.1 L252.9,1001.0 L260.2,1000.8 L267.4,1000.7 L274.7,1000.5 L282.0,1000.3 L289.3,1000.1 L296.5,999.8 L303.8,999.6" stroke="#0a00ff" stroke-width="2.6"/>
<path d="M296.5,999.8 L303.8,999.6 L311.1,999.2 L318.3,998.9 L325.6,998.6 L332.9,998.2 L340.2,997.7 L347.4,997.3 L354.7,996.8 L362.0,996.2 L369.2,995.7 L376.5,995.1 L383.8,994.4 L391.1,993.7 L398.3,993.0 L405.6,992.2 L412.9,991.4 L420.2,990.5 L427.4,989.6 L434.7,988.7 L442.0,987.7 L449.2,986.7 L456.5,985.6 L463.8,984.5 L471.1,983.4 L478.3,982.2 L485.6,980.9 L492.9,979.7 L500.1,978.4 L507.4,977.0 L514.7,975.6 L522.0,974.2 L529.2,972.7 L536.5,971.3 L543.8,969.7 L551.0,968.2 L558.3,966.6 L565.6,965.0 L572.9,963.3 L580.1,961.7 L587.4,960.0 L594.7,958.2 L602.0,956.5 L609.2,954.7 L616.5,953.0 L623.8,951.2 L631.0,949.4 L638.3,947.5 L645.6,945.7 L652.9,943.8 L660.1,942.0 L667.4,940.1" stroke="#0a00ff" stroke-width="3.5"/>
<path d="M297.5,648.6H382.6" stroke="#000" stroke-width="2.4"/>
<path d="M262.4,980.6H309.2" stroke="#000" stroke-width="2.3"/>
<path d="M459,960.1H513" stroke="#000" stroke-width="3"/>
<path d="M190.3,909.7V924.3" stroke="#ff1a10" stroke-width="2.2"/>
</g>
<path d="M329.9,995.0V659.2" stroke="#0000ff" stroke-width="4.0"/>
<path d="M329.9,651.5L323.9,662.5L335.9,662.5Z" fill="#0000ff"/>
<path d="M285.8,1000.0V988.9" stroke="#0000ff" stroke-width="3.5"/>
<path d="M285.8,981.2L279.8,992.2L291.8,992.2Z" fill="#0000ff"/>
<path d="M486.0,982.0V969.0" stroke="#0000ff" stroke-width="3.8"/>
<path d="M486.0,961.3L480.1,972.3L491.9,972.3Z" fill="#0000ff"/>
<path d="M346.1,823.4H371.6" stroke="#000" stroke-width="2.4"/>
<path d="M378.2,823.4L367.2,817.9L367.2,828.9Z" fill="#000"/>
<path d="M422.0,823.4H399.4" stroke="#000" stroke-width="2.4"/>
<path d="M392.8,823.4L403.8,817.9L403.8,828.9Z" fill="#000"/>
<path d="M466.7,658.8H509.8" stroke="#000" stroke-width="4.2"/>
<path d="M466.7,685.1H509.8" stroke="#0a00ff" stroke-width="4.2" stroke-dasharray="8.5,3"/>
<path d="M466.7,710.8H509.8" stroke="#0a00ff" stroke-width="4.2"/>
<path d="M466.7,735.6H509.8" stroke="#ff1a10" stroke-width="4.2"/>
<path d="M466.7,761.0H509.8" stroke="#3cb454" stroke-width="4.2"/>
<path d="M140.18,624.40v5.80 M140.18,1021.30v-5.80 M158.36,624.40v5.80 M158.36,1021.30v-5.80 M176.54,624.40v5.80 M176.54,1021.30v-5.80 M194.72,624.40v5.80 M194.72,1021.30v-5.80 M212.90,624.40v5.80 M212.90,1021.30v-5.80 M231.08,624.40v5.80 M231.08,1021.30v-5.80 M249.26,624.40v5.80 M249.26,1021.30v-5.80 M267.44,624.40v5.80 M267.44,1021.30v-5.80 M285.62,624.40v5.80 M285.62,1021.30v-5.80 M303.80,624.40v11.60 M303.80,1021.30v-11.60 M321.98,624.40v5.80 M321.98,1021.30v-5.80 M340.16,624.40v5.80 M340.16,1021.30v-5.80 M358.34,624.40v5.80 M358.34,1021.30v-5.80 M376.52,624.40v5.80 M376.52,1021.30v-5.80 M394.70,624.40v5.80 M394.70,1021.30v-5.80 M412.88,624.40v5.80 M412.88,1021.30v-5.80 M431.06,624.40v5.80 M431.06,1021.30v-5.80 M449.24,624.40v5.80 M449.24,1021.30v-5.80 M467.42,624.40v5.80 M467.42,1021.30v-5.80 M485.60,624.40v11.60 M485.60,1021.30v-11.60 M503.78,624.40v5.80 M503.78,1021.30v-5.80 M521.96,624.40v5.80 M521.96,1021.30v-5.80 M540.14,624.40v5.80 M540.14,1021.30v-5.80 M558.32,624.40v5.80 M558.32,1021.30v-5.80 M576.50,624.40v5.80 M576.50,1021.30v-5.80 M594.68,624.40v5.80 M594.68,1021.30v-5.80 M612.86,624.40v5.80 M612.86,1021.30v-5.80 M631.04,624.40v5.80 M631.04,1021.30v-5.80 M649.22,624.40v5.80 M649.22,1021.30v-5.80 M122.00,1001.80h11.60 M667.40,1001.80h-11.60 M122.00,902.40h11.60 M667.40,902.40h-11.60 M122.00,803.00h11.60 M667.40,803.00h-11.60 M122.00,703.60h11.60 M667.40,703.60h-11.60 M122.00,981.92h5.80 M667.40,981.92h-5.80 M122.00,962.04h5.80 M667.40,962.04h-5.80 M122.00,942.16h5.80 M667.40,942.16h-5.80 M122.00,922.28h5.80 M667.40,922.28h-5.80 M122.00,882.52h5.80 M667.40,882.52h-5.80 M122.00,862.64h5.80 M667.40,862.64h-5.80 M122.00,842.76h5.80 M667.40,842.76h-5.80 M122.00,822.88h5.80 M667.40,822.88h-5.80 M122.00,783.12h5.80 M667.40,783.12h-5.80 M122.00,763.24h5.80 M667.40,763.24h-5.80 M122.00,743.36h5.80 M667.40,743.36h-5.80 M122.00,723.48h5.80 M667.40,723.48h-5.80 M122.00,683.72h5.80 M667.40,683.72h-5.80 M122.00,663.84h5.80 M667.40,663.84h-5.80 M122.00,643.96h5.80 M667.40,643.96h-5.80" stroke="#000" stroke-width="2.7" fill="none"/>
<rect x="122.00" y="624.40" width="545.40" height="396.90" fill="none" stroke="#000" stroke-width="3.6"/>
<text transform="translate(93.20,44.30) scale(1.0000,1)" font-size="28.0" fill="#000" stroke="#000" stroke-width="0.75">1</text>
<text transform="translate(70.20,103.20) scale(1.0000,1)" font-size="28.0" fill="#000" stroke="#000" stroke-width="0.75">0.5</text>
<text transform="translate(93.20,164.20) scale(1.0000,1)" font-size="28.0" fill="#000" stroke="#000" stroke-width="0.75">0</text>
<text transform="translate(72.30,223.70) scale(1.0000,1)" font-size="26.5" fill="#000" stroke="#000" stroke-width="0.75">0.2</text>
<text transform="translate(57.30,314.60) scale(1.0000,1)" font-size="26.5" fill="#000" stroke="#000" stroke-width="0.75">0.15</text>
<text transform="translate(72.30,405.50) scale(1.0000,1)" font-size="26.5" fill="#000" stroke="#000" stroke-width="0.75">0.1</text>
<text transform="translate(57.30,496.40) scale(1.0000,1)" font-size="26.5" fill="#000" stroke="#000" stroke-width="0.75">0.05</text>
<text transform="translate(94.30,587.30) scale(1.0000,1)" font-size="26.5" fill="#000" stroke="#000" stroke-width="0.75">0</text>
<text transform="translate(72.00,711.40) scale(1.0000,1)" font-size="26.5" fill="#000" stroke="#000" stroke-width="0.75">0.3</text>
<text transform="translate(72.00,810.80) scale(1.0000,1)" font-size="26.5" fill="#000" stroke="#000" stroke-width="0.75">0.2</text>
<text transform="translate(72.00,910.20) scale(1.0000,1)" font-size="26.5" fill="#000" stroke="#000" stroke-width="0.75">0.1</text>
<text transform="translate(94.00,1009.60) scale(1.0000,1)" font-size="26.5" fill="#000" stroke="#000" stroke-width="0.75">0</text>
<text transform="translate(111.70,1049.30) scale(1.0000,1)" font-size="26.8" fill="#000" stroke="#000" stroke-width="0.75">1</text>
<text transform="translate(283.50,1049.30) scale(1.0000,1)" font-size="26.8" fill="#000" stroke="#000" stroke-width="0.75">1.5</text>
<text transform="translate(476.30,1049.30) scale(1.0000,1)" font-size="26.8" fill="#000" stroke="#000" stroke-width="0.75">2</text>
<text transform="translate(646.30,1049.30) scale(1.0000,1)" font-size="26.8" fill="#000" stroke="#000" stroke-width="0.75">2.5</text>
<text transform="translate(292.80,1085.00) scale(1.0750,1)" font-size="25.0" fill="#000" stroke="#000" stroke-width="0.90">Wavelength (<tspan font-family="Liberation Serif, serif">μ</tspan>m)</text>
<g transform="translate(37.3,165.4) rotate(-90)">
<text transform="translate(-2.00,0.00) scale(0.9993,1)" font-size="29.2" fill="#000" stroke="#000" stroke-width="1.00">Reflectance</text>
</g>
<g transform="translate(33.0,598.6) rotate(-90)">
<text transform="translate(-1.01,0.00) scale(1.0115,1)" font-size="29.0" fill="#000" stroke="#000" stroke-width="1.00">Spectral</text>
<text transform="translate(114.91,0.00) scale(0.9975,1)" font-size="29.0" fill="#000" stroke="#000" stroke-width="1.00">Radiance</text>
<text transform="translate(246.99,0.00) scale(1.0125,1)" font-size="29.0" fill="#000" stroke="#000" stroke-width="1.00">(W/cm<tspan font-size="20.3" dy="-11.6">2</tspan><tspan dy="11.6">-<tspan font-family="Liberation Serif, serif">μ</tspan>m)</tspan></text>
</g>
<g transform="translate(49.8,1006.1) rotate(-90)">
<text transform="translate(-1.00,0.00) scale(0.9958,1)" font-size="26.6" fill="#000" stroke="#000" stroke-width="1.00">Spectral</text>
<text transform="translate(102.06,0.00) scale(1.0209,1)" font-size="26.6" fill="#000" stroke="#000" stroke-width="1.00">Radiance</text>
<text transform="translate(223.51,0.00) scale(0.9871,1)" font-size="26.6" fill="#000" stroke="#000" stroke-width="1.00">(W/cm<tspan font-size="18.6" dy="-10.6">2</tspan><tspan dy="10.6">-<tspan font-family="Liberation Serif, serif">μ</tspan>m)</tspan></text>
</g>
<text transform="translate(144.57,46.00) scale(1.1290,1)" font-size="27.0" fill="#000" stroke="#000" stroke-width="0.30">(a)</text>
<text transform="translate(335.38,30.80) scale(1.0576,1)" font-size="23.8" fill="#000" stroke="#000" stroke-width="0.30">DBR Stop Band</text>
<text transform="translate(235.45,93.80) scale(1.0480,1)" font-size="23.3" fill="#000" stroke="#000" stroke-width="0.45">band</text>
<text transform="translate(235.45,124.00) scale(1.0480,1)" font-size="23.3" fill="#000" stroke="#000" stroke-width="0.45">edge</text>
<text transform="translate(235.45,153.80) scale(1.0533,1)" font-size="23.3" fill="#000" stroke="#000" stroke-width="0.45">resonance</text>
<text transform="translate(420.61,92.30) scale(1.0892,1)" font-size="21.5" fill="#000" stroke="#000" stroke-width="0.55">FWHM</text>
<text transform="translate(420.26,120.80) scale(1.0406,1)" font-size="23.0" fill="#000" stroke="#000" stroke-width="0.55">=50nm</text>
<text transform="translate(142.14,240.80) scale(1.1581,1)" font-size="27.0" fill="#000" stroke="#000" stroke-width="0.30">(b)</text>
<text transform="translate(140.70,282.00) scale(1.0069,1)" font-size="24.0" fill="#000" stroke="#000" stroke-width="0.30">Thermal</text>
<text transform="translate(137.68,311.80) scale(1.0582,1)" font-size="23.3" fill="#000" stroke="#000" stroke-width="0.30">Excitation</text>
<text transform="translate(256.70,386.30) scale(1.1038,1)" font-size="21.6" fill="#000" stroke="#000" stroke-width="0.80">(~7X)</text>
<text transform="translate(323.30,230.90) scale(1.0413,1)" font-size="24.0" fill="#f01c1c" stroke="#f01c1c" stroke-width="0.30"><tspan font-family="Liberation Serif, serif">λ</tspan> ~ 1.7<tspan font-family="Liberation Serif, serif">μ</tspan>m</text>
<text transform="translate(137.80,488.80) scale(1.1060,1)" font-size="23.0" fill="#f01c1c" stroke="#f01c1c" stroke-width="0.30"><tspan font-family="Liberation Serif, serif">λ</tspan>~1.15<tspan font-family="Liberation Serif, serif">μ</tspan>m</text>
<text transform="translate(394.91,393.20) scale(1.0892,1)" font-size="21.5" fill="#000" stroke="#000" stroke-width="0.80">FWHM</text>
<text transform="translate(394.95,422.00) scale(1.0515,1)" font-size="22.5" fill="#000" stroke="#000" stroke-width="0.80">=41nm</text>
<text transform="translate(535.04,245.20) scale(1.0604,1)" font-size="20.5" fill="#000" stroke="#000" stroke-width="0.70">PC radiance</text>
<text transform="translate(535.05,271.50) scale(1.0471,1)" font-size="20.5" fill="#000" stroke="#000" stroke-width="0.70">BB T=723K</text>
<text transform="translate(535.05,297.20) scale(1.0471,1)" font-size="20.5" fill="#000" stroke="#000" stroke-width="0.70">BB T=683K</text>
<text transform="translate(535.05,322.60) scale(1.0471,1)" font-size="20.5" fill="#000" stroke="#000" stroke-width="0.70">BB T=633K</text>
<text transform="translate(142.11,661.30) scale(1.1897,1)" font-size="27.0" fill="#000" stroke="#000" stroke-width="0.30">(c)</text>
<text transform="translate(137.72,702.60) scale(1.0404,1)" font-size="24.0" fill="#000" stroke="#000" stroke-width="0.30">Electrical</text>
<text transform="translate(138.75,733.20) scale(1.0520,1)" font-size="24.0" fill="#000" stroke="#000" stroke-width="0.30">-bias</text>
<text transform="translate(245.90,789.60) scale(1.1000,1)" font-size="21.6" fill="#000" stroke="#000" stroke-width="0.80">(~48X)</text>
<text transform="translate(153.50,901.50) scale(1.1080,1)" font-size="23.0" fill="#f01c1c" stroke="#f01c1c" stroke-width="0.30"><tspan font-family="Liberation Serif, serif">λ</tspan>~1.2<tspan font-family="Liberation Serif, serif">μ</tspan>m</text>
<text transform="translate(424.42,815.30) scale(1.0803,1)" font-size="22.0" fill="#000" stroke="#000" stroke-width="0.80">FWHM</text>
<text transform="translate(424.46,843.80) scale(1.0362,1)" font-size="23.0" fill="#000" stroke="#000" stroke-width="0.80">=34nm</text>
<text transform="translate(514.64,666.10) scale(1.0649,1)" font-size="20.5" fill="#000" stroke="#000" stroke-width="0.70">PC radiance</text>
<text transform="translate(514.65,692.40) scale(1.0492,1)" font-size="20.5" fill="#000" stroke="#000" stroke-width="0.70">BB &lt;T&gt;=684K</text>
<text transform="translate(514.65,718.10) scale(1.0492,1)" font-size="20.5" fill="#000" stroke="#000" stroke-width="0.70">BB &lt;T&gt;=654K</text>
<text transform="translate(514.65,742.90) scale(1.0492,1)" font-size="20.5" fill="#000" stroke="#000" stroke-width="0.70">BB &lt;T&gt;=590K</text>
<text transform="translate(514.65,768.30) scale(1.0492,1)" font-size="20.5" fill="#000" stroke="#000" stroke-width="0.70">BB &lt;T&gt;=549K</text>
</svg></body></html>
